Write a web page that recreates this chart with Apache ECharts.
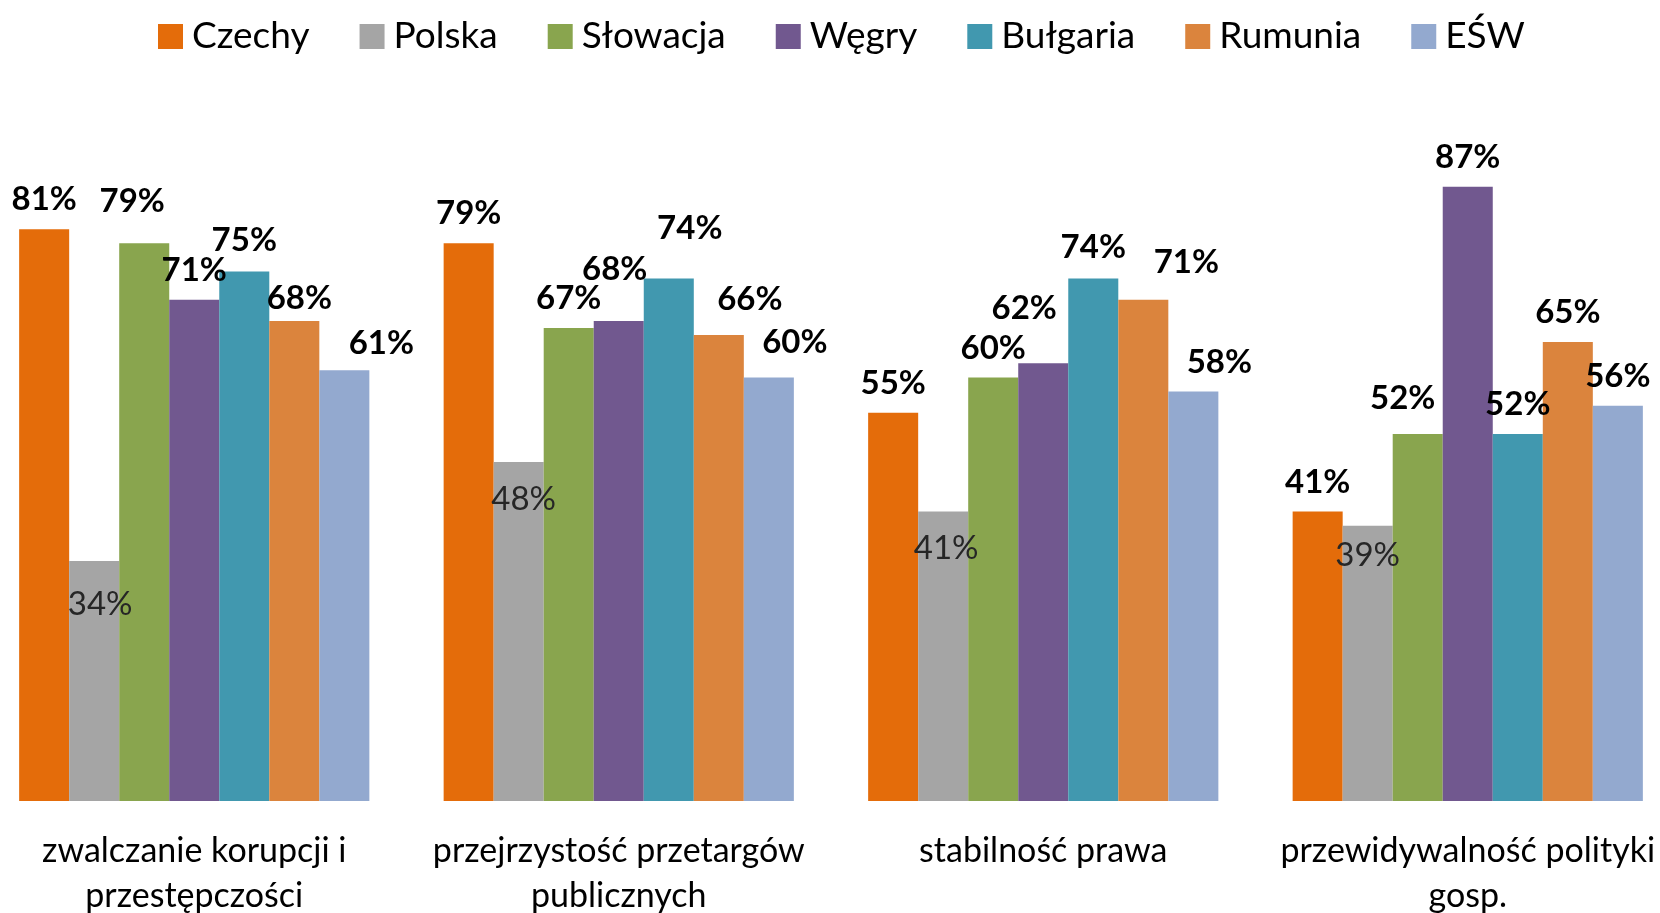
<!DOCTYPE html>
<html>
<head>
    <meta charset="utf-8">
    <script src="https://cdn.jsdelivr.net/npm/echarts@6/dist/echarts.min.js"></script>
    <style>
        html, body { margin: 0; padding: 0; background: #fff; }
        #chart { width: 1660px; height: 913px; }
    </style>
</head>
<body>
    <div id="chart"></div>
    <script>
        var categories = [
            'zwalczanie korupcji i\nprzestępczości',
            'przejrzystość przetargów\npublicznych',
            'stabilność prawa',
            'przewidywalność polityki\ngosp.'
        ];
        var czechy = [81, 79, 55, 41];
        var polska = [34, 48, 41, 39];
        var slowacja = [79, 67, 60, 52];
        var wegry = [71, 68, 62, 87];
        var bulgaria = [75, 74, 74, 52];
        var rumunia = [68, 66, 71, 65];
        var esw = [61, 60, 58, 56];

        // label nudges (px) so labels sit where the original put them
        var labelShift = {
            'Czechy': [[0, 0], [0, 0], [0, 0], [0, 0]],
            'Polska': [[6, 3], [5, -3], [3, -4], [0, -11]],
            'Słowacja': [[-12, -12], [0, 0], [0, 0], [-15, -6]],
            'Węgry': [[0, 0], [-4, -22], [-19, -25], [0, 0]],
            'Bułgaria': [[0, -2], [21, -21], [0, -2], [0, 0]],
            'Rumunia': [[5, 7], [31, -6], [43, -8], [0, 0]],
            'EŚW': [[37, 3], [26, -6], [26, 0], [0, 0]]
        };

        var seriesList = [
            { name: 'Czechy', data: czechy, color: '#E46C0A' },
            { name: 'Polska', data: polska, color: '#A5A5A5' },
            { name: 'Słowacja', data: slowacja, color: '#89A54E' },
            { name: 'Węgry', data: wegry, color: '#71588F' },
            { name: 'Bułgaria', data: bulgaria, color: '#4198AF' },
            { name: 'Rumunia', data: rumunia, color: '#DB843D' },
            { name: 'EŚW', data: esw, color: '#93A9CF' }
        ];

        var font = 'Lato, "Open Sans", sans-serif';

        var chart = echarts.init(document.getElementById('chart'));

        var option = {
            animation: false,
            textStyle: { fontFamily: font },
            legend: {
                top: 13,
                left: 153,
                icon: 'rect',
                itemWidth: 25,
                itemHeight: 25,
                itemGap: 50,
                textStyle: {
                    fontSize: 37,
                    color: '#000',
                    fontFamily: font,
                    padding: [0, 0, 0, 4]
                }
            },
            grid: {
                left: -18,
                right: -20,
                top: 95,
                bottom: 112,
                outerBoundsMode: 'none'
            },
            xAxis: {
                type: 'category',
                data: categories,
                axisLine: { show: false },
                axisTick: { show: false },
                axisLabel: {
                    margin: 28,
                    fontSize: 34,
                    lineHeight: 45,
                    color: '#000',
                    fontFamily: font,
                    interval: 0
                }
            },
            yAxis: {
                type: 'value',
                min: 0,
                max: 100,
                show: false,
                splitLine: { show: false }
            },
            series: seriesList.map(function (s) {
                var inside = s.name === 'Polska';
                var shifts = labelShift[s.name];
                return {
                    type: 'bar',
                    name: s.name,
                    data: s.data.map(function (v, i) {
                        return { value: v, label: { offset: shifts[i] } };
                    }),
                    barGap: 0,
                    barCategoryGap: '17.5%',
                    itemStyle: { color: s.color },
                    label: {
                        show: true,
                        position: inside ? 'insideTop' : 'top',
                        distance: inside ? 24 : 13,
                        formatter: '{c}%',
                        fontSize: 33,
                        fontFamily: font,
                        fontWeight: inside ? 'normal' : 'bold',
                        color: inside ? '#262626' : '#000'
                    }
                };
            })
        };

        chart.setOption(option);
    </script>
</body>
</html>
